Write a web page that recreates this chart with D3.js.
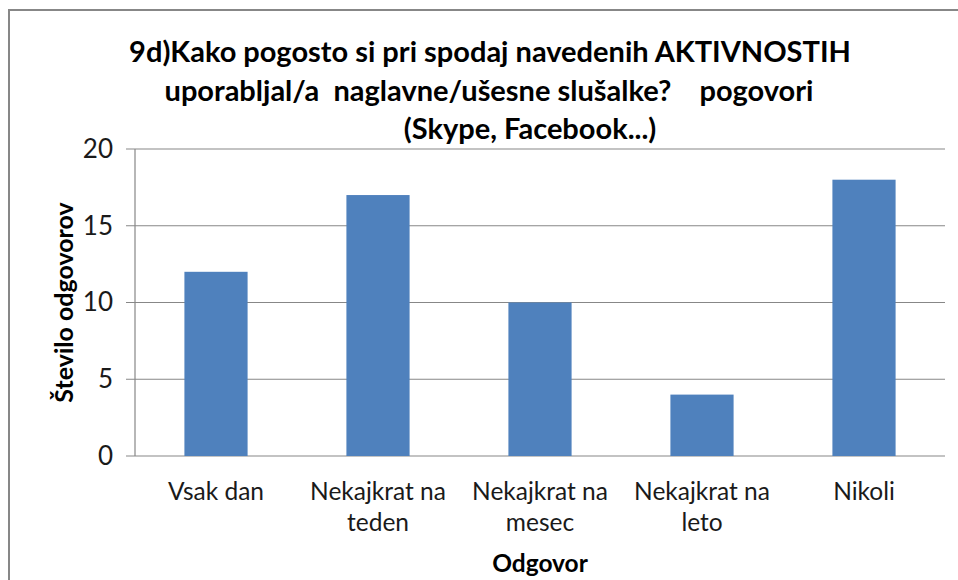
<!DOCTYPE html>
<html>
<head>
<meta charset="utf-8">
<script src="https://cdnjs.cloudflare.com/ajax/libs/d3/7.8.5/d3.min.js"></script>
<style>
  html, body { margin: 0; padding: 0; background: #fff; }
  svg text { font-family: Lato, "Open Sans", sans-serif; white-space: pre; }
</style>
</head>
<body>
<div id="chart"></div>
<script>
// data
const categories = ["Vsak dan", "Nekajkrat na teden", "Nekajkrat na mesec", "Nekajkrat na leto", "Nikoli"];
const categoryLines = [["Vsak dan"], ["Nekajkrat na", "teden"], ["Nekajkrat na", "mesec"], ["Nekajkrat na", "leto"], ["Nikoli"]];
const values = [12, 17, 10, 4, 18];
const yTicks = [0, 5, 10, 15, 20];
const titleLines = [
  "9d)Kako pogosto si pri spodaj navedenih AKTIVNOSTIH",
  "uporabljal/a  naglavne/ušesne slušalke?    pogovori",
  "(Skype, Facebook...)"
];
const titleCenters = [490, 489, 530];
const yTitle = "Število odgovorov";
const xTitle = "Odgovor";

const W = 958, H = 580;
const margin = {top: 149, right: 13, bottom: 124, left: 135};
const width = W - margin.left - margin.right;
const height = H - margin.top - margin.bottom;

const root = d3.select("#chart").append("svg")
  .attr("width", W)
  .attr("height", H);

// outer chart frame
root.append("rect")
  .attr("x", 9).attr("y", 10)
  .attr("width", W + 10).attr("height", H + 10)
  .attr("fill", "none")
  .attr("stroke", "#878787")
  .attr("stroke-width", 2);

// title
root.append("g").selectAll("text")
  .data(titleLines)
  .join("text")
  .attr("x", (d, i) => titleCenters[i])
  .attr("y", (d, i) => 62 + i * 38.5)
  .attr("text-anchor", "middle")
  .style("font-size", "29px")
  .style("font-weight", "bold")
  .attr("fill", "#000")
  .text(d => d);

const svg = root.append("g")
  .attr("transform", `translate(${margin.left},${margin.top})`);

const x = d3.scaleBand()
  .domain(categories)
  .range([0, width])
  .padding(0);

const y = d3.scaleLinear()
  .domain([0, 20])
  .range([height, 0]);

// gridlines
svg.append("g").selectAll("line")
  .data(yTicks)
  .join("line")
  .attr("x1", -9)
  .attr("x2", width)
  .attr("y1", d => y(d))
  .attr("y2", d => y(d))
  .attr("stroke", "#878787")
  .attr("stroke-width", 1.2);

// y axis line
svg.append("line")
  .attr("x1", 0).attr("x2", 0)
  .attr("y1", 0).attr("y2", height)
  .attr("stroke", "#878787")
  .attr("stroke-width", 1.2);

// bars
const barW = x.bandwidth() * 0.39;
svg.append("g").selectAll("rect")
  .data(values)
  .join("rect")
  .attr("x", (d, i) => x(categories[i]) + (x.bandwidth() - barW) / 2)
  .attr("y", d => y(d))
  .attr("width", barW)
  .attr("height", d => height - y(d))
  .attr("fill", "#4F81BD");

// y tick labels
const yAxis = svg.append("g")
  .call(d3.axisLeft(y).tickValues(yTicks).tickSize(0).tickPadding(22));
yAxis.select(".domain").remove();
yAxis.selectAll("text")
  .style("font-size", "26px")
  .attr("fill", "#1a1a1a")
  .attr("font-family", null);

// x tick labels
const xLabels = svg.append("g").selectAll("text")
  .data(categoryLines)
  .join("text")
  .attr("x", (d, i) => x(categories[i]) + x.bandwidth() / 2)
  .attr("y", height + 44)
  .attr("text-anchor", "middle")
  .style("font-size", "24.5px")
  .attr("fill", "#1a1a1a");
xLabels.selectAll("tspan")
  .data(d => d)
  .join("tspan")
  .attr("x", function() { return d3.select(this.parentNode).attr("x"); })
  .attr("dy", (d, i) => i === 0 ? 0 : 31)
  .text(d => d);

// axis titles
svg.append("text")
  .attr("x", width / 2)
  .attr("y", height + 116)
  .attr("text-anchor", "middle")
  .style("font-size", "24.5px")
  .style("font-weight", "bold")
  .text(xTitle);

svg.append("text")
  .attr("transform", `translate(${73 - margin.left},${height / 2}) rotate(-90)`)
  .attr("text-anchor", "middle")
  .style("font-size", "25px")
  .style("font-weight", "bold")
  .text(yTitle);
</script>
</body>
</html>
